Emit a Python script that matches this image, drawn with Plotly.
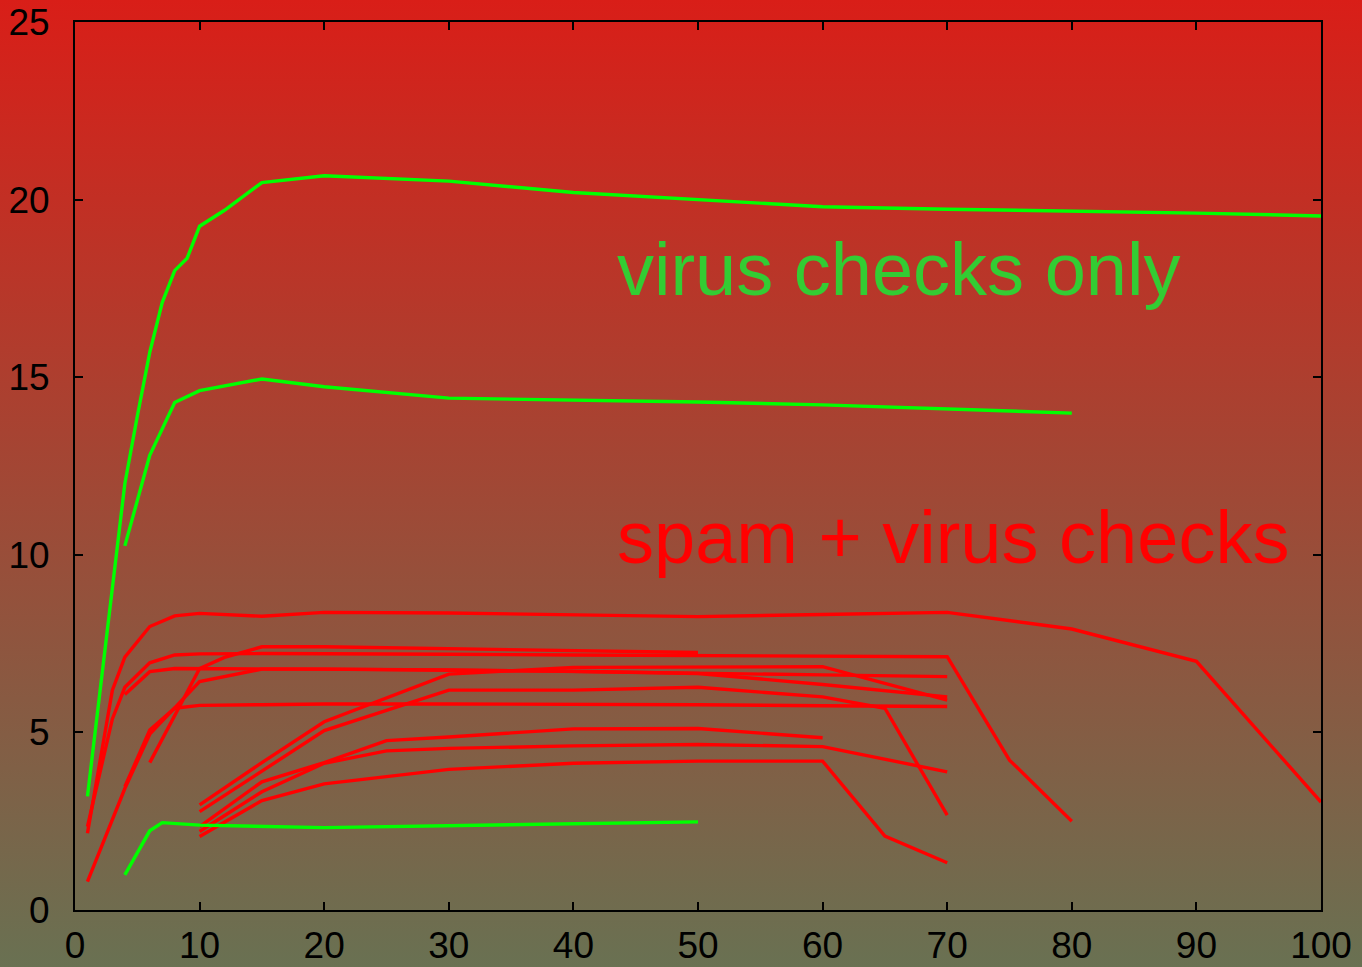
import base64
import plotly.graph_objects as go

# ---------------- data ----------------
green_top_x = [1, 2, 3, 4, 5, 6, 7, 8, 9, 10, 12, 15, 20, 30, 40, 50, 60, 70, 80, 90, 100]
green_top_y = [3.2, 6.2, 9.1, 12.0, 13.9, 15.7, 17.1, 18.0, 18.35, 19.25, 19.7, 20.48, 20.67,
               20.52, 20.2, 19.99, 19.8, 19.73, 19.68, 19.62, 19.54]

green_mid_x = [4, 6, 8, 10, 15, 20, 30, 40, 50, 60, 70, 80]
green_mid_y = [10.25, 12.8, 14.29, 14.62, 14.95, 14.73, 14.41, 14.36, 14.3, 14.22, 14.1, 13.99]

green_low_x = [4, 6, 7, 10, 20, 30, 40, 50]
green_low_y = [0.99, 2.23, 2.46, 2.39, 2.32, 2.37, 2.43, 2.48]

red_a_x = [1, 3, 4, 6, 8, 10, 15, 20, 30, 40, 50, 60, 70, 80, 90, 100]
red_a_y = [2.16, 6.19, 7.12, 7.98, 8.28, 8.35, 8.27, 8.38, 8.36, 8.31, 8.26, 8.32, 8.38, 7.91, 7.0, 3.04]

red_b_x = [1, 3, 4, 6, 8, 10, 15, 20, 30, 40, 50, 60, 70, 75, 80]
red_b_y = [2.35, 5.38, 6.27, 6.96, 7.18, 7.21, 7.22, 7.22, 7.2, 7.18, 7.17, 7.15, 7.13, 4.22, 2.5]

red_c_x = [4, 6, 8, 10, 15, 20, 30, 40, 50, 60, 70]
red_c_y = [6.07, 6.71, 6.8, 6.8, 6.8, 6.78, 6.76, 6.72, 6.68, 6.62, 6.57]

red_d_x = [4, 6, 8, 10, 15, 20, 30, 40, 50, 60, 70]
red_d_y = [3.47, 5.07, 5.68, 5.76, 5.78, 5.8, 5.8, 5.8, 5.78, 5.75, 5.73]

red_e_x = [1, 4, 6, 8, 10, 15, 20, 30, 40, 50, 60, 70]
red_e_y = [0.8, 3.42, 4.95, 5.69, 6.43, 6.78, 6.78, 6.75, 6.72, 6.66, 6.35, 6.0]

red_f_x = [6, 10, 12, 15, 20, 30, 40, 50]
red_f_y = [4.15, 6.8, 7.11, 7.41, 7.41, 7.35, 7.3, 7.25]

red_i_x = [10, 15, 20, 30, 40, 50, 60, 70]
red_i_y = [2.96, 4.15, 5.3, 6.64, 6.83, 6.83, 6.85, 5.91]

red_j_x = [10, 20, 30, 40, 50, 60, 65, 70]
red_j_y = [2.77, 5.05, 6.19, 6.19, 6.27, 6.0, 5.68, 2.67]

red_k_x = [10, 15, 20, 25, 30, 40, 50, 60]
red_k_y = [2.35, 3.61, 4.15, 4.77, 4.87, 5.1, 5.11, 4.85]

red_l_x = [10, 15, 20, 25, 30, 40, 50, 60, 70]
red_l_y = [2.21, 3.33, 4.13, 4.48, 4.55, 4.62, 4.66, 4.6, 3.89]

red_m_x = [10, 15, 20, 30, 40, 50, 60, 65, 70]
red_m_y = [2.07, 3.08, 3.55, 3.96, 4.13, 4.19, 4.19, 2.08, 1.33]

x_ticks = [0, 10, 20, 30, 40, 50, 60, 70, 80, 90, 100]
y_ticks = [0, 5, 10, 15, 20, 25]

label_virus = "virus checks only"
label_spam = "spam + virus checks"

# ---------------- figure ----------------
W, H = 1362, 967
ML, MR, MT, MB = 75, 41, 22, 57
PW, PH = W - ML - MR, H - MT - MB

green_series = [(green_top_x, green_top_y), (green_mid_x, green_mid_y), (green_low_x, green_low_y)]
red_series = [(red_a_x, red_a_y), (red_b_x, red_b_y), (red_c_x, red_c_y), (red_d_x, red_d_y),
              (red_e_x, red_e_y), (red_f_x, red_f_y), (red_i_x, red_i_y), (red_j_x, red_j_y),
              (red_k_x, red_k_y), (red_l_x, red_l_y), (red_m_x, red_m_y)]

fig = go.Figure()
for xs, ys in red_series:
    fig.add_trace(go.Scatter(x=xs, y=ys, mode="lines",
                             line=dict(color="#ff0000", width=3.4), showlegend=False,
                             hoverinfo="skip"))
for xs, ys in green_series:
    fig.add_trace(go.Scatter(x=xs, y=ys, mode="lines",
                             line=dict(color="#00ff00", width=3.4), showlegend=False,
                             hoverinfo="skip"))

# background gradient (whole page) as an SVG image
svg = (
    f'<svg xmlns="http://www.w3.org/2000/svg" width="{W}" height="{H}" '
    f'viewBox="0 0 {W} {H}" preserveAspectRatio="none">'
    '<defs><linearGradient id="g" x1="0" y1="0" x2="0" y2="1">'
    '<stop offset="0" stop-color="rgb(217,30,24)"/>'
    '<stop offset="1" stop-color="rgb(105,113,82)"/>'
    '</linearGradient></defs>'
    f'<rect x="0" y="0" width="{W}" height="{H}" fill="url(#g)"/></svg>'
)
src = "data:image/svg+xml;base64," + base64.b64encode(svg.encode()).decode()
fig.add_layout_image(dict(
    source=src, xref="paper", yref="paper",
    x=-ML / PW, y=1 + MT / PH, sizex=W / PW, sizey=H / PH,
    xanchor="left", yanchor="top", sizing="stretch", layer="below", opacity=1,
))

axis_font = dict(family="Liberation Sans, Arial, sans-serif", size=37, color="black")
fig.update_xaxes(range=[0, 100], tickvals=x_ticks, ticktext=[str(v) for v in x_ticks],
                 ticks="inside", ticklen=8, tickwidth=2, tickcolor="black",
                 showline=True, linecolor="black", linewidth=2, mirror="ticks",
                 showgrid=False, zeroline=False, tickfont=axis_font,
                 ticklabelstandoff=2, automargin=False)
fig.update_yaxes(range=[0, 25], tickvals=y_ticks, ticktext=[str(v) for v in y_ticks],
                 ticks="inside", ticklen=8, tickwidth=2, tickcolor="black",
                 showline=True, linecolor="black", linewidth=2, mirror="ticks",
                 showgrid=False, zeroline=False, tickfont=axis_font,
                 ticklabelstandoff=16, automargin=False)

fig.add_annotation(x=43.3, y=18.02, xref="x", yref="y", text=label_virus,
                   showarrow=False, xanchor="left", yanchor="middle",
                   font=dict(family="Liberation Sans, Arial, sans-serif", size=74, color="#33cc33"))
fig.add_annotation(x=43.3, y=10.49, xref="x", yref="y", text=label_spam,
                   showarrow=False, xanchor="left", yanchor="middle",
                   font=dict(family="Liberation Sans, Arial, sans-serif", size=74, color="#ff0000"))

fig.update_layout(width=W, height=H, margin=dict(l=ML, r=MR, t=MT, b=MB, pad=0, autoexpand=False),
                  paper_bgcolor="rgb(150,80,58)", plot_bgcolor="rgba(0,0,0,0)",
                  showlegend=False)

fig.write_html(
    "out.html",
    config={"displayModeBar": False},
    post_script="document.body.style.margin='0';document.body.style.overflow='hidden';",
)
